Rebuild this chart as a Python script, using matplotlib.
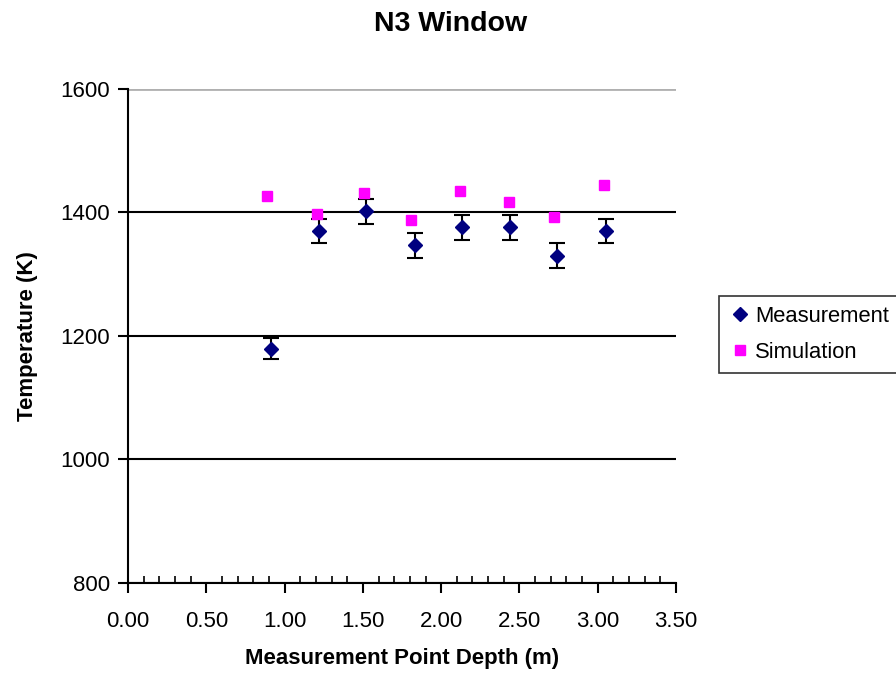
import matplotlib.pyplot as plt
from matplotlib.lines import Line2D
import numpy as np

plt.rcParams['font.family'] = ['Liberation Sans', 'DejaVu Sans']

# Data
meas_depth = [0.91, 1.22, 1.52, 1.83, 2.13, 2.44, 2.74, 3.05]
meas_temp = [1179, 1370, 1402, 1347, 1376, 1376, 1330, 1370]
meas_err = [17, 20, 20, 20, 20, 20, 20, 20]
sim_depth = [0.89, 1.21, 1.51, 1.81, 2.12, 2.43, 2.72, 3.04]
sim_temp = [1426, 1397, 1432, 1388, 1434, 1417, 1393, 1444]

navy = '#000080'
magenta = '#FF00FF'

fig = plt.figure(figsize=(8.96, 6.74), dpi=100)
ax = fig.add_axes([0.1429, 0.135, 0.6116, 0.733])

ax.errorbar(meas_depth, meas_temp, yerr=meas_err, fmt='D', color=navy,
            markersize=7, ecolor='black', elinewidth=1.5, capsize=6, capthick=1.5,
            zorder=3)
ax.plot(sim_depth, sim_temp, 's', color=magenta, markersize=7,
        linestyle='none', zorder=4)

ax.set_xlim(0, 3.5)
ax.set_ylim(800, 1600)
ax.set_xticks(np.arange(0, 3.51, 0.5))
ax.set_xticks(np.arange(0, 3.51, 0.1), minor=True)
ax.set_xticklabels(['%.2f' % v for v in np.arange(0, 3.51, 0.5)])
ax.set_yticks([800, 1000, 1200, 1400, 1600])

ax.grid(axis='y', color='black', linewidth=1.5)
gl = ax.get_ygridlines()
gl[-1].set_color('#b0b0b0')
gl[-1].set_linewidth(2)
ax.set_axisbelow(True)

for s in ['top', 'right']:
    ax.spines[s].set_visible(False)
ax.spines['left'].set_linewidth(1.5)
ax.spines['bottom'].set_linewidth(1.5)

ax.tick_params(axis='both', which='major', direction='out', length=7, width=1.5,
               labelsize=16)
ax.tick_params(axis='x', which='major', pad=13)
ax.tick_params(axis='y', which='major', pad=6)
ax.tick_params(axis='x', which='minor', direction='in', length=5, width=1.2)

ax.set_xlabel('Measurement Point Depth (m)', fontsize=16, fontweight='bold', labelpad=12)
ax.set_ylabel('Temperature (K)', fontsize=16, fontweight='bold', labelpad=16)
fig.text(0.503, 0.965, 'N3 Window', fontsize=20.5, fontweight='bold',
         ha='center', va='center')

handles = [Line2D([], [], marker='D', color=navy, markersize=7, linestyle='none'),
           Line2D([], [], marker='s', color=magenta, markersize=7, linestyle='none')]
leg = fig.legend(handles, ['Measurement', 'Simulation'], loc='center left',
                 bbox_to_anchor=(0.8025, 0.504), borderaxespad=0, fontsize=15.8,
                 frameon=True, fancybox=False, edgecolor='black', handletextpad=0.2,
                 handlelength=1.0, borderpad=0.45, labelspacing=0.7)
leg.get_frame().set_linewidth(1.2)

fig.savefig('out.png', dpi=100)
